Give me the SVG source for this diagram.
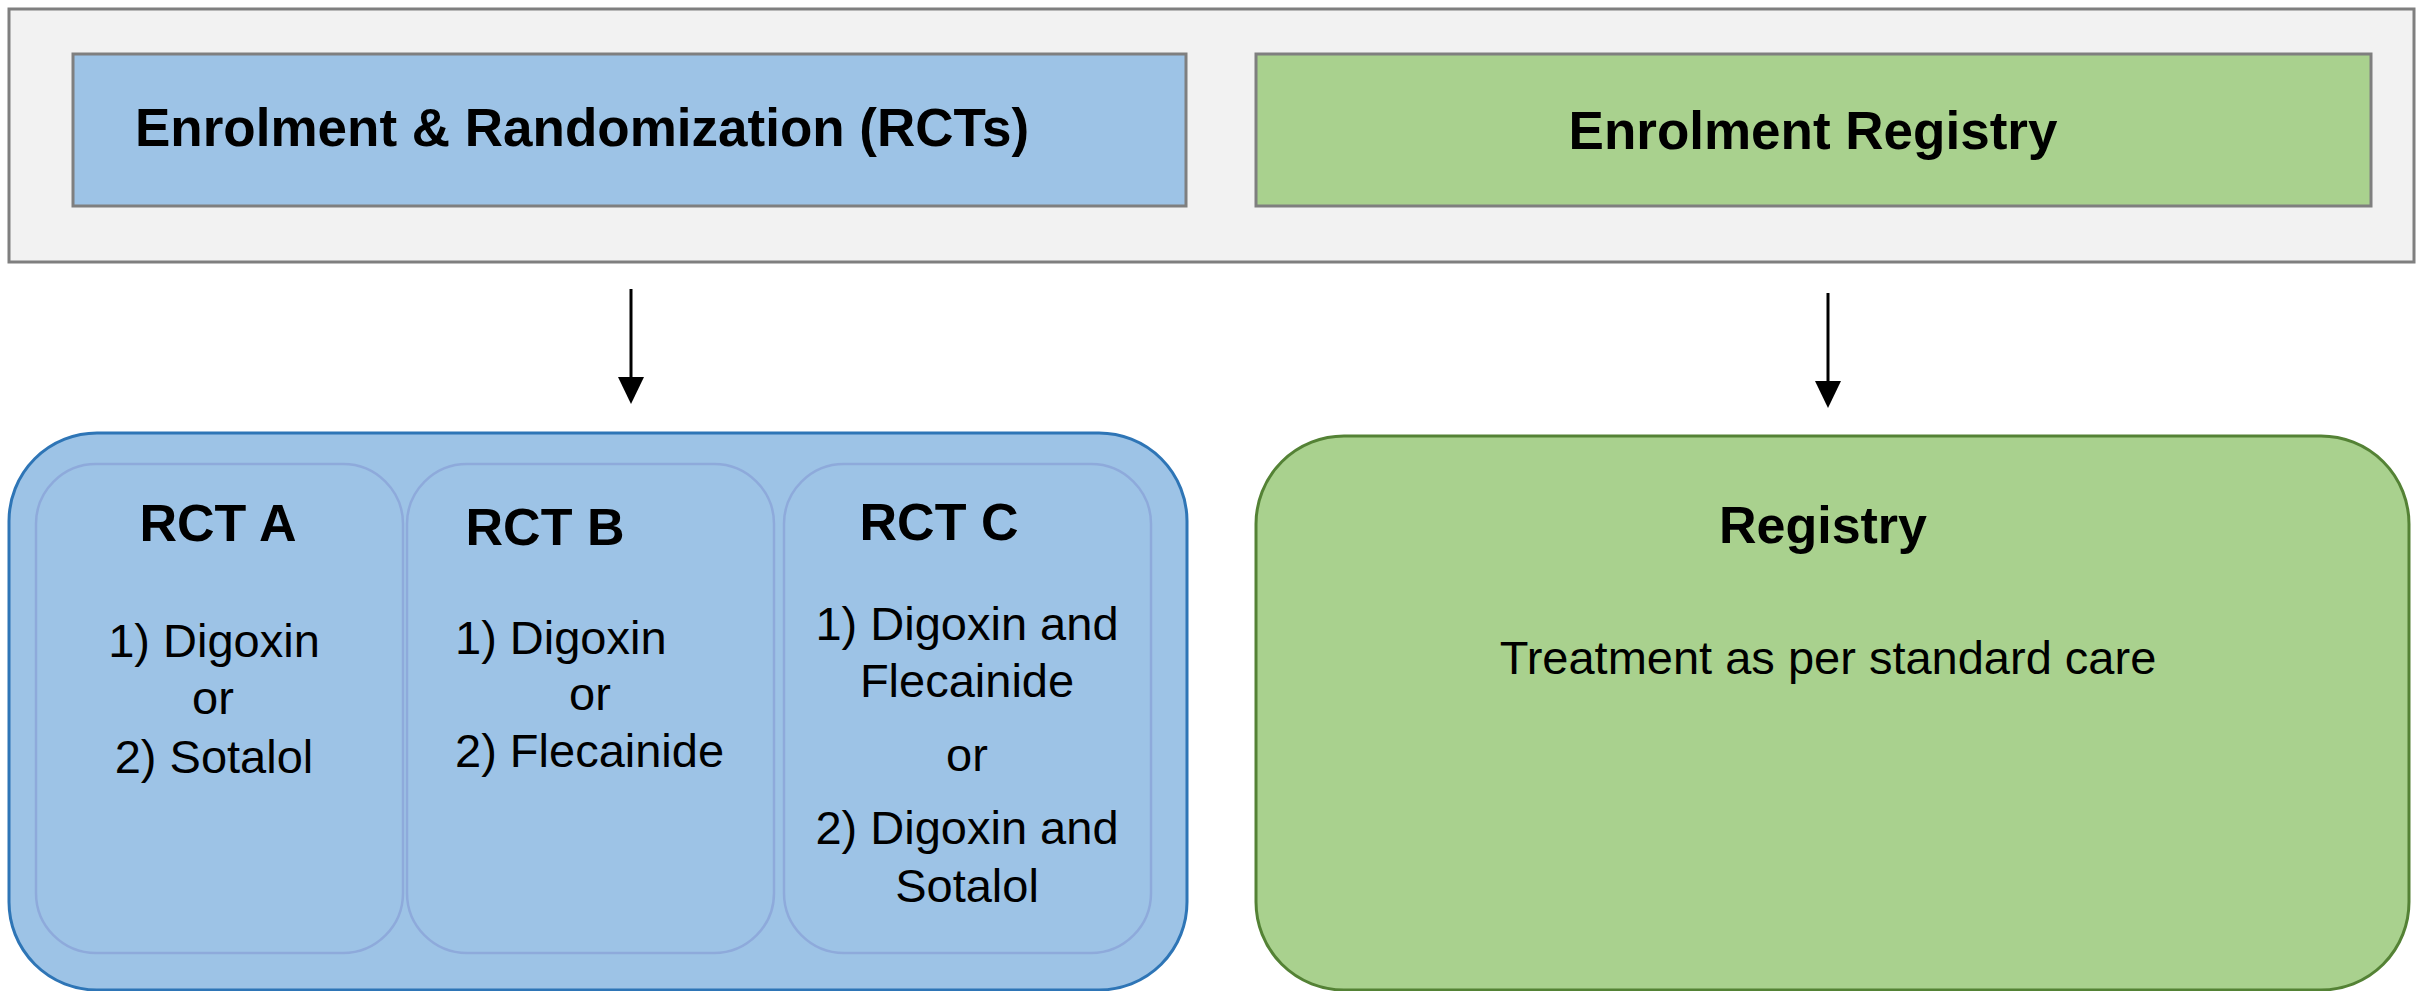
<svg xmlns="http://www.w3.org/2000/svg" width="2433" height="991" viewBox="0 0 2433 991">
<style>
text{font-family:"Liberation Sans",Arial,sans-serif;fill:#000}
.hd{font-size:53px;font-weight:bold}
.tt{font-size:52px;font-weight:bold}
.bd{font-size:47px}
.mid{text-anchor:middle}
.hbox{stroke:#7f7f7f;stroke-width:3}
.sub{fill:none;stroke:#8eaadb;stroke-width:2.5}
.conn{stroke:#000;stroke-width:3;fill:none}
</style>
<defs>
<marker id="arr" viewBox="0 0 27 26" markerWidth="27" markerHeight="26" markerUnits="userSpaceOnUse" refX="2" refY="13" orient="auto">
<path d="M0,0 L27,13 L0,26 z" fill="#000"/>
</marker>
</defs>
<rect width="2433" height="991" fill="#fff"/>
<g id="enrolment-panel">
<rect x="9" y="9" width="2405" height="253" fill="#f2f2f2" class="hbox"/>
</g>
<g id="enrol-rct">
<rect x="73" y="54" width="1113" height="152" fill="#9dc3e6" class="hbox"/>
<text class="hd" x="135" y="146">Enrolment &amp; Randomization (RCTs)</text>
</g>
<g id="enrol-registry">
<rect x="1256" y="54" width="1115" height="152" fill="#a9d18e" class="hbox"/>
<text class="hd mid" x="1813" y="149">Enrolment Registry</text>
</g>
<g id="connectors">
<line class="conn" x1="631" y1="289" x2="631" y2="379" marker-end="url(#arr)"/>
<line class="conn" x1="1828" y1="293" x2="1828" y2="383" marker-end="url(#arr)"/>
</g>
<g id="rct-group">
<rect x="9" y="433" width="1178" height="557" rx="88" ry="88" fill="#9dc3e6" stroke="#2e75b6" stroke-width="3"/>
</g>
<g id="rct-a">
<rect x="36" y="464" width="367" height="489" rx="60" ry="60" class="sub"/>
<text class="tt mid" x="218" y="541">RCT A</text>
<text class="bd mid" x="214" y="657">1) Digoxin</text>
<text class="bd mid" x="213" y="714">or</text>
<text class="bd mid" x="214" y="773">2) Sotalol</text>
</g>
<g id="rct-b">
<rect x="407" y="464" width="367" height="489" rx="60" ry="60" class="sub"/>
<text class="tt mid" x="545" y="545">RCT B</text>
<text class="bd" x="455" y="654">1) Digoxin</text>
<text class="bd mid" x="590" y="710">or</text>
<text class="bd" x="455" y="767">2) Flecainide</text>
</g>
<g id="rct-c">
<rect x="784" y="464" width="367" height="489" rx="60" ry="60" class="sub"/>
<text class="tt mid" x="939" y="540">RCT C</text>
<text class="bd mid" x="967" y="640">1) Digoxin and</text>
<text class="bd mid" x="967" y="697">Flecainide</text>
<text class="bd mid" x="967" y="771">or</text>
<text class="bd mid" x="967" y="844">2) Digoxin and</text>
<text class="bd mid" x="967" y="902">Sotalol</text>
</g>
<g id="registry">
<rect x="1256" y="436" width="1153" height="554" rx="88" ry="88" fill="#a9d18e" stroke="#548235" stroke-width="3"/>
<text class="tt mid" x="1823" y="543">Registry</text>
<text class="bd mid" x="1828" y="674">Treatment as per standard care</text>
</g>
</svg>
